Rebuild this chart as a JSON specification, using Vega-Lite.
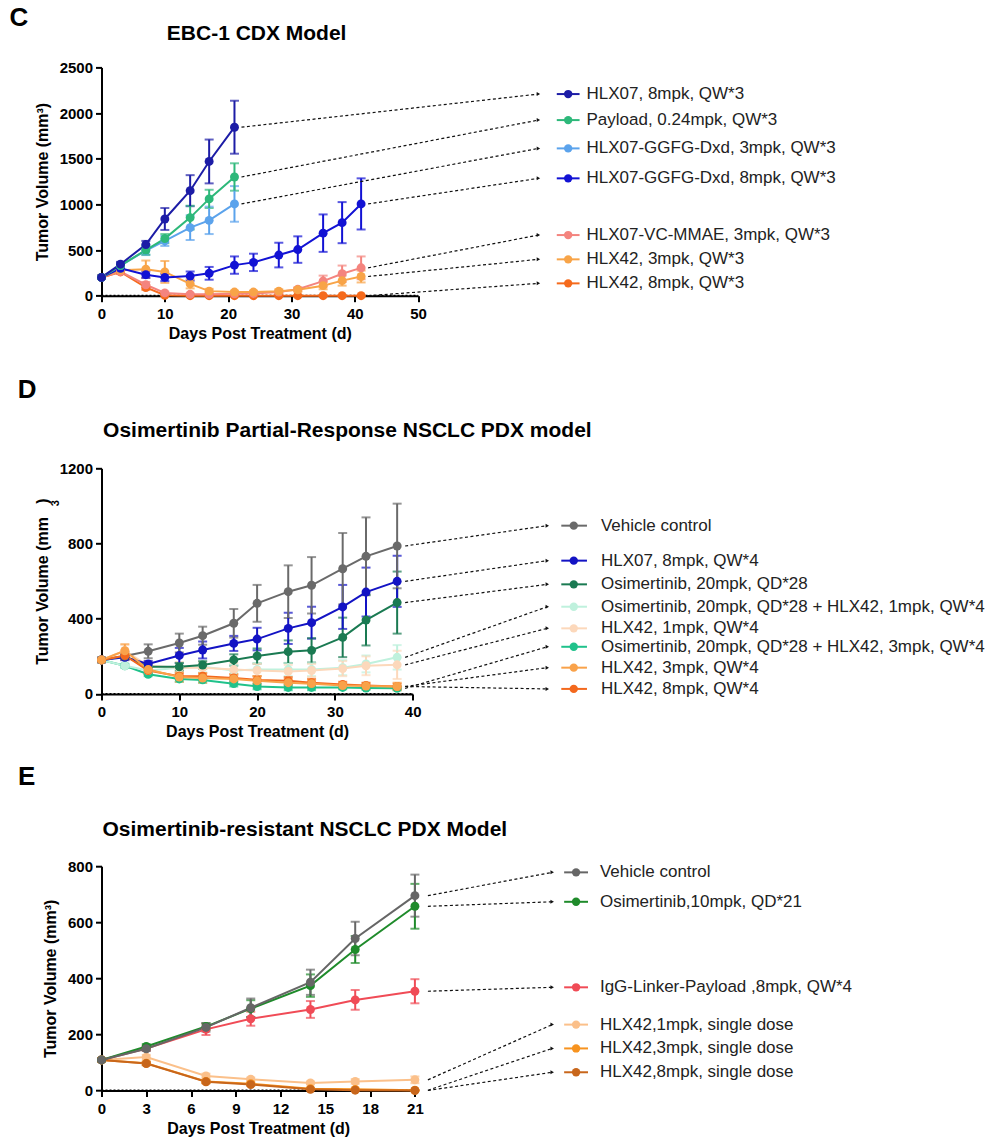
{
  "$schema": "https://vega.github.io/schema/vega-lite/v6.json",
  "padding": {"left": 8.5, "top": 4.4, "right": 0, "bottom": 0},
  "bounds": "flush",
  "spacing": 171.9,
  "resolve": {"scale": {"color": "independent"}},
  "config": {
    "font": "Liberation Sans",
    "view": {"stroke": null},
    "axis": {"domainColor": "#000", "domainWidth": 2, "tickColor": "#000", "tickWidth": 2, "tickSize": 6, "labelFont": "Liberation Sans", "labelFontSize": 15, "labelFontWeight": "bold", "labelColor": "#000", "titleFont": "Liberation Sans", "titleFontSize": 16, "titleFontWeight": "bold", "titleColor": "#000", "grid": false, "labelFlush": false, "labelOverlap": false, "format": "d"},
    "axisX": {"labelPadding": 5, "titlePadding": 4},
    "axisY": {"labelPadding": 3, "titlePadding": 9}
  },
  "datasets": {
    "cSeries": [
      {"series": "HLX42, 8mpk, QW*3", "day": 0, "mean": 200, "sem": 15},
      {"series": "HLX42, 8mpk, QW*3", "day": 3, "mean": 260, "sem": 20},
      {"series": "HLX42, 8mpk, QW*3", "day": 7, "mean": 90, "sem": 25},
      {"series": "HLX42, 8mpk, QW*3", "day": 10, "mean": 5, "sem": 5},
      {"series": "HLX42, 8mpk, QW*3", "day": 14, "mean": 0, "sem": 0},
      {"series": "HLX42, 8mpk, QW*3", "day": 17, "mean": 0, "sem": 0},
      {"series": "HLX42, 8mpk, QW*3", "day": 21, "mean": 0, "sem": 0},
      {"series": "HLX42, 8mpk, QW*3", "day": 24, "mean": 0, "sem": 0},
      {"series": "HLX42, 8mpk, QW*3", "day": 28, "mean": 0, "sem": 0},
      {"series": "HLX42, 8mpk, QW*3", "day": 31, "mean": 0, "sem": 0},
      {"series": "HLX42, 8mpk, QW*3", "day": 35, "mean": 0, "sem": 0},
      {"series": "HLX42, 8mpk, QW*3", "day": 38, "mean": 0, "sem": 0},
      {"series": "HLX42, 8mpk, QW*3", "day": 41, "mean": 0, "sem": 0},
      {"series": "HLX07-VC-MMAE, 3mpk, QW*3", "day": 0, "mean": 200, "sem": 15},
      {"series": "HLX07-VC-MMAE, 3mpk, QW*3", "day": 3, "mean": 265, "sem": 20},
      {"series": "HLX07-VC-MMAE, 3mpk, QW*3", "day": 7, "mean": 120, "sem": 30},
      {"series": "HLX07-VC-MMAE, 3mpk, QW*3", "day": 10, "mean": 30, "sem": 15},
      {"series": "HLX07-VC-MMAE, 3mpk, QW*3", "day": 14, "mean": 15, "sem": 10},
      {"series": "HLX07-VC-MMAE, 3mpk, QW*3", "day": 17, "mean": 15, "sem": 10},
      {"series": "HLX07-VC-MMAE, 3mpk, QW*3", "day": 21, "mean": 20, "sem": 10},
      {"series": "HLX07-VC-MMAE, 3mpk, QW*3", "day": 24, "mean": 25, "sem": 10},
      {"series": "HLX07-VC-MMAE, 3mpk, QW*3", "day": 28, "mean": 40, "sem": 15},
      {"series": "HLX07-VC-MMAE, 3mpk, QW*3", "day": 31, "mean": 70, "sem": 20},
      {"series": "HLX07-VC-MMAE, 3mpk, QW*3", "day": 35, "mean": 160, "sem": 60},
      {"series": "HLX07-VC-MMAE, 3mpk, QW*3", "day": 38, "mean": 240, "sem": 90},
      {"series": "HLX07-VC-MMAE, 3mpk, QW*3", "day": 41, "mean": 305, "sem": 125},
      {"series": "HLX42, 3mpk, QW*3", "day": 0, "mean": 200, "sem": 15},
      {"series": "HLX42, 3mpk, QW*3", "day": 3, "mean": 280, "sem": 25},
      {"series": "HLX42, 3mpk, QW*3", "day": 7, "mean": 290, "sem": 95},
      {"series": "HLX42, 3mpk, QW*3", "day": 10, "mean": 260, "sem": 120},
      {"series": "HLX42, 3mpk, QW*3", "day": 14, "mean": 130, "sem": 50},
      {"series": "HLX42, 3mpk, QW*3", "day": 17, "mean": 50, "sem": 25},
      {"series": "HLX42, 3mpk, QW*3", "day": 21, "mean": 40, "sem": 15},
      {"series": "HLX42, 3mpk, QW*3", "day": 24, "mean": 40, "sem": 15},
      {"series": "HLX42, 3mpk, QW*3", "day": 28, "mean": 50, "sem": 20},
      {"series": "HLX42, 3mpk, QW*3", "day": 31, "mean": 65, "sem": 20},
      {"series": "HLX42, 3mpk, QW*3", "day": 35, "mean": 110, "sem": 40},
      {"series": "HLX42, 3mpk, QW*3", "day": 38, "mean": 165, "sem": 55},
      {"series": "HLX42, 3mpk, QW*3", "day": 41, "mean": 210, "sem": 65},
      {"series": "HLX07-GGFG-Dxd, 8mpk, QW*3", "day": 0, "mean": 200, "sem": 15},
      {"series": "HLX07-GGFG-Dxd, 8mpk, QW*3", "day": 3, "mean": 300, "sem": 20},
      {"series": "HLX07-GGFG-Dxd, 8mpk, QW*3", "day": 7, "mean": 230, "sem": 35},
      {"series": "HLX07-GGFG-Dxd, 8mpk, QW*3", "day": 10, "mean": 200, "sem": 40},
      {"series": "HLX07-GGFG-Dxd, 8mpk, QW*3", "day": 14, "mean": 215, "sem": 50},
      {"series": "HLX07-GGFG-Dxd, 8mpk, QW*3", "day": 17, "mean": 245, "sem": 70},
      {"series": "HLX07-GGFG-Dxd, 8mpk, QW*3", "day": 21, "mean": 335, "sem": 95},
      {"series": "HLX07-GGFG-Dxd, 8mpk, QW*3", "day": 24, "mean": 365, "sem": 95},
      {"series": "HLX07-GGFG-Dxd, 8mpk, QW*3", "day": 28, "mean": 445, "sem": 135},
      {"series": "HLX07-GGFG-Dxd, 8mpk, QW*3", "day": 31, "mean": 505, "sem": 145},
      {"series": "HLX07-GGFG-Dxd, 8mpk, QW*3", "day": 35, "mean": 685, "sem": 205},
      {"series": "HLX07-GGFG-Dxd, 8mpk, QW*3", "day": 38, "mean": 800, "sem": 225},
      {"series": "HLX07-GGFG-Dxd, 8mpk, QW*3", "day": 41, "mean": 1005, "sem": 280},
      {"series": "HLX07-GGFG-Dxd, 3mpk, QW*3", "day": 0, "mean": 200, "sem": 15},
      {"series": "HLX07-GGFG-Dxd, 3mpk, QW*3", "day": 3, "mean": 330, "sem": 20},
      {"series": "HLX07-GGFG-Dxd, 3mpk, QW*3", "day": 7, "mean": 495, "sem": 50},
      {"series": "HLX07-GGFG-Dxd, 3mpk, QW*3", "day": 10, "mean": 600, "sem": 55},
      {"series": "HLX07-GGFG-Dxd, 3mpk, QW*3", "day": 14, "mean": 745, "sem": 135},
      {"series": "HLX07-GGFG-Dxd, 3mpk, QW*3", "day": 17, "mean": 825, "sem": 150},
      {"series": "HLX07-GGFG-Dxd, 3mpk, QW*3", "day": 21, "mean": 1005, "sem": 195},
      {"series": "Payload, 0.24mpk, QW*3", "day": 0, "mean": 200, "sem": 15},
      {"series": "Payload, 0.24mpk, QW*3", "day": 3, "mean": 330, "sem": 20},
      {"series": "Payload, 0.24mpk, QW*3", "day": 7, "mean": 500, "sem": 50},
      {"series": "Payload, 0.24mpk, QW*3", "day": 10, "mean": 625, "sem": 50},
      {"series": "Payload, 0.24mpk, QW*3", "day": 14, "mean": 855, "sem": 130},
      {"series": "Payload, 0.24mpk, QW*3", "day": 17, "mean": 1060, "sem": 100},
      {"series": "Payload, 0.24mpk, QW*3", "day": 21, "mean": 1300, "sem": 150},
      {"series": "HLX07, 8mpk, QW*3", "day": 0, "mean": 200, "sem": 15},
      {"series": "HLX07, 8mpk, QW*3", "day": 3, "mean": 345, "sem": 25},
      {"series": "HLX07, 8mpk, QW*3", "day": 7, "mean": 560, "sem": 40},
      {"series": "HLX07, 8mpk, QW*3", "day": 10, "mean": 840, "sem": 120},
      {"series": "HLX07, 8mpk, QW*3", "day": 14, "mean": 1150, "sem": 170},
      {"series": "HLX07, 8mpk, QW*3", "day": 17, "mean": 1470, "sem": 240},
      {"series": "HLX07, 8mpk, QW*3", "day": 21, "mean": 1845, "sem": 290}
    ],
    "cLegend": [
      {"series": "HLX07, 8mpk, QW*3", "ly": 2208},
      {"series": "Payload, 0.24mpk, QW*3", "ly": 1923},
      {"series": "HLX07-GGFG-Dxd, 3mpk, QW*3", "ly": 1613},
      {"series": "HLX07-GGFG-Dxd, 8mpk, QW*3", "ly": 1285},
      {"series": "HLX07-VC-MMAE, 3mpk, QW*3", "ly": 664},
      {"series": "HLX42, 3mpk, QW*3", "ly": 398},
      {"series": "HLX42, 8mpk, QW*3", "ly": 135}
    ],
    "dSeries": [
      {"series": "Osimertinib, 20mpk, QD*28 + HLX42, 3mpk, QW*4", "day": 0, "mean": 181, "sem": 10},
      {"series": "Osimertinib, 20mpk, QD*28 + HLX42, 3mpk, QW*4", "day": 3, "mean": 150, "sem": 10},
      {"series": "Osimertinib, 20mpk, QD*28 + HLX42, 3mpk, QW*4", "day": 6, "mean": 105, "sem": 10},
      {"series": "Osimertinib, 20mpk, QD*28 + HLX42, 3mpk, QW*4", "day": 10, "mean": 80, "sem": 15},
      {"series": "Osimertinib, 20mpk, QD*28 + HLX42, 3mpk, QW*4", "day": 13, "mean": 75, "sem": 15},
      {"series": "Osimertinib, 20mpk, QD*28 + HLX42, 3mpk, QW*4", "day": 17, "mean": 55, "sem": 15},
      {"series": "Osimertinib, 20mpk, QD*28 + HLX42, 3mpk, QW*4", "day": 20, "mean": 40, "sem": 15},
      {"series": "Osimertinib, 20mpk, QD*28 + HLX42, 3mpk, QW*4", "day": 24, "mean": 35, "sem": 15},
      {"series": "Osimertinib, 20mpk, QD*28 + HLX42, 3mpk, QW*4", "day": 27, "mean": 35, "sem": 15},
      {"series": "Osimertinib, 20mpk, QD*28 + HLX42, 3mpk, QW*4", "day": 31, "mean": 35, "sem": 10},
      {"series": "Osimertinib, 20mpk, QD*28 + HLX42, 3mpk, QW*4", "day": 34, "mean": 32, "sem": 10},
      {"series": "Osimertinib, 20mpk, QD*28 + HLX42, 3mpk, QW*4", "day": 38, "mean": 30, "sem": 10},
      {"series": "Osimertinib, 20mpk, QD*28 + HLX42, 1mpk, QW*4", "day": 0, "mean": 181, "sem": 10},
      {"series": "Osimertinib, 20mpk, QD*28 + HLX42, 1mpk, QW*4", "day": 3, "mean": 150, "sem": 10},
      {"series": "Osimertinib, 20mpk, QD*28 + HLX42, 1mpk, QW*4", "day": 6, "mean": 125, "sem": 15},
      {"series": "Osimertinib, 20mpk, QD*28 + HLX42, 1mpk, QW*4", "day": 10, "mean": 140, "sem": 25},
      {"series": "Osimertinib, 20mpk, QD*28 + HLX42, 1mpk, QW*4", "day": 13, "mean": 145, "sem": 30},
      {"series": "Osimertinib, 20mpk, QD*28 + HLX42, 1mpk, QW*4", "day": 17, "mean": 125, "sem": 30},
      {"series": "Osimertinib, 20mpk, QD*28 + HLX42, 1mpk, QW*4", "day": 20, "mean": 130, "sem": 35},
      {"series": "Osimertinib, 20mpk, QD*28 + HLX42, 1mpk, QW*4", "day": 24, "mean": 130, "sem": 35},
      {"series": "Osimertinib, 20mpk, QD*28 + HLX42, 1mpk, QW*4", "day": 27, "mean": 130, "sem": 35},
      {"series": "Osimertinib, 20mpk, QD*28 + HLX42, 1mpk, QW*4", "day": 31, "mean": 140, "sem": 40},
      {"series": "Osimertinib, 20mpk, QD*28 + HLX42, 1mpk, QW*4", "day": 34, "mean": 160, "sem": 45},
      {"series": "Osimertinib, 20mpk, QD*28 + HLX42, 1mpk, QW*4", "day": 38, "mean": 195, "sem": 65},
      {"series": "HLX42, 1mpk, QW*4", "day": 0, "mean": 181, "sem": 10},
      {"series": "HLX42, 1mpk, QW*4", "day": 3, "mean": 230, "sem": 30},
      {"series": "HLX42, 1mpk, QW*4", "day": 6, "mean": 150, "sem": 25},
      {"series": "HLX42, 1mpk, QW*4", "day": 10, "mean": 140, "sem": 30},
      {"series": "HLX42, 1mpk, QW*4", "day": 13, "mean": 140, "sem": 30},
      {"series": "HLX42, 1mpk, QW*4", "day": 17, "mean": 130, "sem": 35},
      {"series": "HLX42, 1mpk, QW*4", "day": 20, "mean": 125, "sem": 35},
      {"series": "HLX42, 1mpk, QW*4", "day": 24, "mean": 120, "sem": 35},
      {"series": "HLX42, 1mpk, QW*4", "day": 27, "mean": 125, "sem": 35},
      {"series": "HLX42, 1mpk, QW*4", "day": 31, "mean": 135, "sem": 40},
      {"series": "HLX42, 1mpk, QW*4", "day": 34, "mean": 150, "sem": 50},
      {"series": "HLX42, 1mpk, QW*4", "day": 38, "mean": 155, "sem": 75},
      {"series": "Osimertinib, 20mpk, QD*28", "day": 0, "mean": 181, "sem": 10},
      {"series": "Osimertinib, 20mpk, QD*28", "day": 3, "mean": 200, "sem": 15},
      {"series": "Osimertinib, 20mpk, QD*28", "day": 6, "mean": 145, "sem": 15},
      {"series": "Osimertinib, 20mpk, QD*28", "day": 10, "mean": 145, "sem": 20},
      {"series": "Osimertinib, 20mpk, QD*28", "day": 13, "mean": 154, "sem": 20},
      {"series": "Osimertinib, 20mpk, QD*28", "day": 17, "mean": 181, "sem": 30},
      {"series": "Osimertinib, 20mpk, QD*28", "day": 20, "mean": 202, "sem": 40},
      {"series": "Osimertinib, 20mpk, QD*28", "day": 24, "mean": 225, "sem": 60},
      {"series": "Osimertinib, 20mpk, QD*28", "day": 27, "mean": 232, "sem": 65},
      {"series": "Osimertinib, 20mpk, QD*28", "day": 31, "mean": 301, "sem": 105},
      {"series": "Osimertinib, 20mpk, QD*28", "day": 34, "mean": 393, "sem": 135},
      {"series": "Osimertinib, 20mpk, QD*28", "day": 38, "mean": 486, "sem": 165},
      {"series": "HLX07, 8mpk, QW*4", "day": 0, "mean": 181, "sem": 10},
      {"series": "HLX07, 8mpk, QW*4", "day": 3, "mean": 195, "sem": 15},
      {"series": "HLX07, 8mpk, QW*4", "day": 6, "mean": 160, "sem": 15},
      {"series": "HLX07, 8mpk, QW*4", "day": 10, "mean": 205, "sem": 40},
      {"series": "HLX07, 8mpk, QW*4", "day": 13, "mean": 234, "sem": 45},
      {"series": "HLX07, 8mpk, QW*4", "day": 17, "mean": 269, "sem": 40},
      {"series": "HLX07, 8mpk, QW*4", "day": 20, "mean": 292, "sem": 60},
      {"series": "HLX07, 8mpk, QW*4", "day": 24, "mean": 349, "sem": 83},
      {"series": "HLX07, 8mpk, QW*4", "day": 27, "mean": 379, "sem": 85},
      {"series": "HLX07, 8mpk, QW*4", "day": 31, "mean": 463, "sem": 117},
      {"series": "HLX07, 8mpk, QW*4", "day": 34, "mean": 542, "sem": 130},
      {"series": "HLX07, 8mpk, QW*4", "day": 38, "mean": 599, "sem": 136},
      {"series": "Vehicle control", "day": 0, "mean": 181, "sem": 15},
      {"series": "Vehicle control", "day": 3, "mean": 202, "sem": 20},
      {"series": "Vehicle control", "day": 6, "mean": 227, "sem": 37},
      {"series": "Vehicle control", "day": 10, "mean": 271, "sem": 50},
      {"series": "Vehicle control", "day": 13, "mean": 310, "sem": 48},
      {"series": "Vehicle control", "day": 17, "mean": 376, "sem": 76},
      {"series": "Vehicle control", "day": 20, "mean": 482, "sem": 98},
      {"series": "Vehicle control", "day": 24, "mean": 544, "sem": 140},
      {"series": "Vehicle control", "day": 27, "mean": 578, "sem": 150},
      {"series": "Vehicle control", "day": 31, "mean": 666, "sem": 190},
      {"series": "Vehicle control", "day": 34, "mean": 732, "sem": 207},
      {"series": "Vehicle control", "day": 38, "mean": 787, "sem": 225},
      {"series": "HLX42, 8mpk, QW*4", "day": 0, "mean": 181, "sem": 10},
      {"series": "HLX42, 8mpk, QW*4", "day": 3, "mean": 205, "sem": 20},
      {"series": "HLX42, 8mpk, QW*4", "day": 6, "mean": 125, "sem": 20},
      {"series": "HLX42, 8mpk, QW*4", "day": 10, "mean": 95, "sem": 15},
      {"series": "HLX42, 8mpk, QW*4", "day": 13, "mean": 95, "sem": 15},
      {"series": "HLX42, 8mpk, QW*4", "day": 17, "mean": 85, "sem": 20},
      {"series": "HLX42, 8mpk, QW*4", "day": 20, "mean": 75, "sem": 20},
      {"series": "HLX42, 8mpk, QW*4", "day": 24, "mean": 70, "sem": 20},
      {"series": "HLX42, 8mpk, QW*4", "day": 27, "mean": 60, "sem": 20},
      {"series": "HLX42, 8mpk, QW*4", "day": 31, "mean": 50, "sem": 15},
      {"series": "HLX42, 8mpk, QW*4", "day": 34, "mean": 45, "sem": 15},
      {"series": "HLX42, 8mpk, QW*4", "day": 38, "mean": 40, "sem": 15},
      {"series": "HLX42, 3mpk, QW*4", "day": 0, "mean": 181, "sem": 10},
      {"series": "HLX42, 3mpk, QW*4", "day": 3, "mean": 230, "sem": 35},
      {"series": "HLX42, 3mpk, QW*4", "day": 6, "mean": 130, "sem": 25},
      {"series": "HLX42, 3mpk, QW*4", "day": 10, "mean": 90, "sem": 25},
      {"series": "HLX42, 3mpk, QW*4", "day": 13, "mean": 85, "sem": 25},
      {"series": "HLX42, 3mpk, QW*4", "day": 17, "mean": 80, "sem": 25},
      {"series": "HLX42, 3mpk, QW*4", "day": 20, "mean": 70, "sem": 25},
      {"series": "HLX42, 3mpk, QW*4", "day": 24, "mean": 60, "sem": 20},
      {"series": "HLX42, 3mpk, QW*4", "day": 27, "mean": 55, "sem": 20},
      {"series": "HLX42, 3mpk, QW*4", "day": 31, "mean": 45, "sem": 15},
      {"series": "HLX42, 3mpk, QW*4", "day": 34, "mean": 42, "sem": 15},
      {"series": "HLX42, 3mpk, QW*4", "day": 38, "mean": 40, "sem": 20}
    ],
    "dLegend": [
      {"series": "Vehicle control", "ly": 895},
      {"series": "HLX07, 8mpk, QW*4", "ly": 709},
      {"series": "Osimertinib, 20mpk, QD*28", "ly": 583},
      {"series": "Osimertinib, 20mpk, QD*28 + HLX42, 1mpk, QW*4", "ly": 464},
      {"series": "HLX42, 1mpk, QW*4", "ly": 349},
      {"series": "Osimertinib, 20mpk, QD*28 + HLX42, 3mpk, QW*4", "ly": 251},
      {"series": "HLX42, 3mpk, QW*4", "ly": 140},
      {"series": "HLX42, 8mpk, QW*4", "ly": 27}
    ],
    "eSeries": [
      {"series": "HLX42,1mpk, single dose", "day": 0, "mean": 109, "sem": 5},
      {"series": "HLX42,1mpk, single dose", "day": 3, "mean": 119, "sem": 8},
      {"series": "HLX42,1mpk, single dose", "day": 7, "mean": 52, "sem": 8},
      {"series": "HLX42,1mpk, single dose", "day": 10, "mean": 40, "sem": 6},
      {"series": "HLX42,1mpk, single dose", "day": 14, "mean": 27, "sem": 5},
      {"series": "HLX42,1mpk, single dose", "day": 17, "mean": 32, "sem": 8},
      {"series": "HLX42,1mpk, single dose", "day": 21, "mean": 38, "sem": 12},
      {"series": "HLX42,3mpk, single dose", "day": 0, "mean": 109, "sem": 5},
      {"series": "HLX42,3mpk, single dose", "day": 3, "mean": 97, "sem": 6},
      {"series": "HLX42,3mpk, single dose", "day": 7, "mean": 32, "sem": 5},
      {"series": "HLX42,3mpk, single dose", "day": 10, "mean": 24, "sem": 4},
      {"series": "HLX42,3mpk, single dose", "day": 14, "mean": 6, "sem": 3},
      {"series": "HLX42,3mpk, single dose", "day": 17, "mean": 4, "sem": 3},
      {"series": "HLX42,3mpk, single dose", "day": 21, "mean": 1, "sem": 1},
      {"series": "HLX42,8mpk, single dose", "day": 0, "mean": 109, "sem": 5},
      {"series": "HLX42,8mpk, single dose", "day": 3, "mean": 96, "sem": 6},
      {"series": "HLX42,8mpk, single dose", "day": 7, "mean": 31, "sem": 5},
      {"series": "HLX42,8mpk, single dose", "day": 10, "mean": 21, "sem": 4},
      {"series": "HLX42,8mpk, single dose", "day": 14, "mean": 4, "sem": 3},
      {"series": "HLX42,8mpk, single dose", "day": 17, "mean": 1, "sem": 1},
      {"series": "HLX42,8mpk, single dose", "day": 21, "mean": 0, "sem": 0},
      {"series": "IgG-Linker-Payload ,8mpk, QW*4", "day": 0, "mean": 109, "sem": 5},
      {"series": "IgG-Linker-Payload ,8mpk, QW*4", "day": 3, "mean": 150, "sem": 8},
      {"series": "IgG-Linker-Payload ,8mpk, QW*4", "day": 7, "mean": 218, "sem": 20},
      {"series": "IgG-Linker-Payload ,8mpk, QW*4", "day": 10, "mean": 256, "sem": 25},
      {"series": "IgG-Linker-Payload ,8mpk, QW*4", "day": 14, "mean": 289, "sem": 30},
      {"series": "IgG-Linker-Payload ,8mpk, QW*4", "day": 17, "mean": 323, "sem": 35},
      {"series": "IgG-Linker-Payload ,8mpk, QW*4", "day": 21, "mean": 354, "sem": 43},
      {"series": "Osimertinib,10mpk, QD*21", "day": 0, "mean": 109, "sem": 5},
      {"series": "Osimertinib,10mpk, QD*21", "day": 3, "mean": 157, "sem": 8},
      {"series": "Osimertinib,10mpk, QD*21", "day": 7, "mean": 228, "sem": 12},
      {"series": "Osimertinib,10mpk, QD*21", "day": 10, "mean": 292, "sem": 30},
      {"series": "Osimertinib,10mpk, QD*21", "day": 14, "mean": 374, "sem": 40},
      {"series": "Osimertinib,10mpk, QD*21", "day": 17, "mean": 503, "sem": 48},
      {"series": "Osimertinib,10mpk, QD*21", "day": 21, "mean": 657, "sem": 80},
      {"series": "Vehicle control", "day": 0, "mean": 109, "sem": 5},
      {"series": "Vehicle control", "day": 3, "mean": 149, "sem": 8},
      {"series": "Vehicle control", "day": 7, "mean": 225, "sem": 15},
      {"series": "Vehicle control", "day": 10, "mean": 295, "sem": 33},
      {"series": "Vehicle control", "day": 14, "mean": 386, "sem": 45},
      {"series": "Vehicle control", "day": 17, "mean": 542, "sem": 60},
      {"series": "Vehicle control", "day": 21, "mean": 695, "sem": 75}
    ],
    "eLegend": [
      {"series": "Vehicle control", "ly": 778},
      {"series": "Osimertinib,10mpk, QD*21", "ly": 673},
      {"series": "IgG-Linker-Payload ,8mpk, QW*4", "ly": 368},
      {"series": "HLX42,1mpk, single dose", "ly": 235},
      {"series": "HLX42,3mpk, single dose", "ly": 150},
      {"series": "HLX42,8mpk, single dose", "ly": 65}
    ]
  },
  "vconcat": [
    {
      "width": 316.6,
      "height": 228.3,
      "layer": [
        {"data": {"values": [{}]}, "mark": {"type": "rule", "strokeDash": [2, 2], "strokeWidth": 2, "color": "#000"}, "encoding": {"x": {"datum": 0, "type": "quantitative"}, "x2": {"datum": 50}, "y": {"datum": 0, "type": "quantitative"}}},
        {"data": {"name": "cSeries"}, "mark": {"type": "errorbar", "ticks": {"size": 9}, "thickness": 2},
         "encoding": {"x": {"field": "day", "type": "quantitative", "title": "Days Post Treatment (d)"}, "y": {"field": "mean", "type": "quantitative", "title": "Tumor Volume (mm³)"}, "yError": {"field": "sem"},
           "color": {"field": "series", "type": "nominal", "legend": null, "scale": {"domain": ["HLX07, 8mpk, QW*3", "Payload, 0.24mpk, QW*3", "HLX07-GGFG-Dxd, 3mpk, QW*3", "HLX07-GGFG-Dxd, 8mpk, QW*3", "HLX07-VC-MMAE, 3mpk, QW*3", "HLX42, 3mpk, QW*3", "HLX42, 8mpk, QW*3"], "range": ["#1c1ca6", "#2db87a", "#5ba3ec", "#1212d4", "#f4847e", "#f8a448", "#f56a1c"]}}}},
        {"data": {"name": "cSeries"}, "mark": {"type": "line", "strokeWidth": 2},
         "encoding": {
           "x": {"field": "day", "type": "quantitative", "title": "Days Post Treatment (d)", "scale": {"domain": [0, 50], "nice": false}, "axis": {"values": [0, 10, 20, 30, 40, 50]}},
           "y": {"field": "mean", "type": "quantitative", "title": "Tumor Volume (mm³)", "scale": {"domain": [0, 2500], "nice": false}, "axis": {"values": [0, 500, 1000, 1500, 2000, 2500]}},
           "color": {"field": "series", "type": "nominal", "legend": null}}},
        {"data": {"name": "cSeries"}, "mark": {"type": "circle", "size": 80, "opacity": 1},
         "encoding": {"x": {"field": "day", "type": "quantitative", "title": "Days Post Treatment (d)"}, "y": {"field": "mean", "type": "quantitative", "title": "Tumor Volume (mm³)"}, "color": {"field": "series", "type": "nominal", "legend": null}}},
        {"data": {"name": "cSeries"},
         "transform": [{"joinaggregate": [{"op": "max", "field": "day", "as": "last"}], "groupby": ["series"]}, {"filter": "datum.day === datum.last"}, {"lookup": "series", "from": {"data": {"name": "cLegend"}, "key": "series", "fields": ["ly"]}}],
         "mark": {"type": "rule", "strokeDash": [3, 2.5], "strokeWidth": 1.2, "color": "#111", "xOffset": 7},
         "encoding": {"x": {"field": "day", "type": "quantitative", "title": "Days Post Treatment (d)"}, "y": {"field": "mean", "type": "quantitative", "title": "Tumor Volume (mm³)"}, "x2": {"datum": 69.0}, "y2": {"field": "ly"}}},
        {"data": {"name": "cLegend"}, "mark": {"type": "point", "shape": "triangle-right", "filled": true, "size": 16, "color": "#111", "opacity": 1},
         "encoding": {"x": {"datum": 69.0, "type": "quantitative"}, "y": {"field": "ly", "type": "quantitative", "title": "Tumor Volume (mm³)"}}},
        {"data": {"name": "cLegend"}, "mark": {"type": "rule", "strokeWidth": 2},
         "encoding": {"x": {"datum": 71.9, "type": "quantitative"}, "x2": {"datum": 75.5}, "y": {"field": "ly", "type": "quantitative", "title": "Tumor Volume (mm³)"}, "color": {"field": "series", "type": "nominal", "legend": null}}},
        {"data": {"name": "cLegend"}, "mark": {"type": "circle", "size": 70, "opacity": 1},
         "encoding": {"x": {"datum": 73.7, "type": "quantitative"}, "y": {"field": "ly", "type": "quantitative", "title": "Tumor Volume (mm³)"}, "color": {"field": "series", "type": "nominal", "legend": null}}},
        {"data": {"name": "cLegend"}, "mark": {"type": "text", "align": "left", "baseline": "middle", "fontSize": 17, "color": "#222"},
         "encoding": {"x": {"datum": 76.6, "type": "quantitative"}, "y": {"field": "ly", "type": "quantitative", "title": "Tumor Volume (mm³)"}, "text": {"field": "series"}}},
        {"data": {"values": [{}]}, "mark": {"type": "text", "text": "C", "fontSize": 26, "fontWeight": "bold", "align": "left", "baseline": "top", "color": "#000"},
         "encoding": {"x": {"datum": -14.53, "type": "quantitative"}, "y": {"datum": 3185, "type": "quantitative"}}},
        {"data": {"values": [{}]}, "mark": {"type": "text", "text": "EBC-1 CDX Model", "fontSize": 21, "fontWeight": "bold", "align": "center", "baseline": "alphabetic", "color": "#000"},
         "encoding": {"x": {"datum": 24.5, "type": "quantitative"}, "y": {"datum": 2799, "type": "quantitative"}}}
      ]
    },
    {
      "width": 311.2,
      "height": 225.7,
      "layer": [
        {"data": {"values": [{}]}, "mark": {"type": "rule", "strokeDash": [2, 2], "strokeWidth": 2, "color": "#000"}, "encoding": {"x": {"datum": 0, "type": "quantitative"}, "x2": {"datum": 40}, "y": {"datum": 0, "type": "quantitative"}}},
        {"data": {"name": "dSeries"}, "mark": {"type": "errorbar", "ticks": {"size": 9}, "thickness": 2},
         "encoding": {"x": {"field": "day", "type": "quantitative", "title": "Days Post Treatment (d)"}, "y": {"field": "mean", "type": "quantitative", "title": "Tumor Volume (mm\u00a0\u00a0\u00a0)"}, "yError": {"field": "sem"},
           "color": {"field": "series", "type": "nominal", "legend": null, "scale": {"domain": ["Vehicle control", "HLX07, 8mpk, QW*4", "Osimertinib, 20mpk, QD*28", "Osimertinib, 20mpk, QD*28 + HLX42, 1mpk, QW*4", "HLX42, 1mpk, QW*4", "Osimertinib, 20mpk, QD*28 + HLX42, 3mpk, QW*4", "HLX42, 3mpk, QW*4", "HLX42, 8mpk, QW*4"], "range": ["#6a6a6a", "#1313c4", "#1a7a52", "#bff1dd", "#fcd8bb", "#20c28b", "#f9a24a", "#f3681d"]}}}},
        {"data": {"name": "dSeries"}, "mark": {"type": "line", "strokeWidth": 2},
         "encoding": {
           "x": {"field": "day", "type": "quantitative", "title": "Days Post Treatment (d)", "scale": {"domain": [0, 40], "nice": false}, "axis": {"values": [0, 10, 20, 30, 40]}},
           "y": {"field": "mean", "type": "quantitative", "title": "Tumor Volume (mm\u00a0\u00a0\u00a0)", "scale": {"domain": [0, 1200], "nice": false}, "axis": {"values": [0, 400, 800, 1200]}},
           "color": {"field": "series", "type": "nominal", "legend": null}}},
        {"data": {"name": "dSeries"}, "mark": {"type": "circle", "size": 80, "opacity": 1},
         "encoding": {"x": {"field": "day", "type": "quantitative", "title": "Days Post Treatment (d)"}, "y": {"field": "mean", "type": "quantitative", "title": "Tumor Volume (mm\u00a0\u00a0\u00a0)"}, "color": {"field": "series", "type": "nominal", "legend": null}}},
        {"data": {"name": "dSeries"},
         "transform": [{"joinaggregate": [{"op": "max", "field": "day", "as": "last"}], "groupby": ["series"]}, {"filter": "datum.day === datum.last"}, {"lookup": "series", "from": {"data": {"name": "dLegend"}, "key": "series", "fields": ["ly"]}}],
         "mark": {"type": "rule", "strokeDash": [3, 2.5], "strokeWidth": 1.2, "color": "#111", "xOffset": 8},
         "encoding": {"x": {"field": "day", "type": "quantitative", "title": "Days Post Treatment (d)"}, "y": {"field": "mean", "type": "quantitative", "title": "Tumor Volume (mm\u00a0\u00a0\u00a0)"}, "x2": {"datum": 57.3}, "y2": {"field": "ly"}}},
        {"data": {"name": "dLegend"}, "mark": {"type": "point", "shape": "triangle-right", "filled": true, "size": 16, "color": "#111", "opacity": 1},
         "encoding": {"x": {"datum": 57.3, "type": "quantitative"}, "y": {"field": "ly", "type": "quantitative", "title": "Tumor Volume (mm\u00a0\u00a0\u00a0)"}}},
        {"data": {"name": "dLegend"}, "mark": {"type": "rule", "strokeWidth": 2},
         "encoding": {"x": {"datum": 59.1, "type": "quantitative"}, "x2": {"datum": 62.4}, "y": {"field": "ly", "type": "quantitative", "title": "Tumor Volume (mm\u00a0\u00a0\u00a0)"}, "color": {"field": "series", "type": "nominal", "legend": null}}},
        {"data": {"name": "dLegend"}, "mark": {"type": "circle", "size": 70, "opacity": 1},
         "encoding": {"x": {"datum": 60.7, "type": "quantitative"}, "y": {"field": "ly", "type": "quantitative", "title": "Tumor Volume (mm\u00a0\u00a0\u00a0)"}, "color": {"field": "series", "type": "nominal", "legend": null}}},
        {"data": {"name": "dLegend"}, "mark": {"type": "text", "align": "left", "baseline": "middle", "fontSize": 17, "color": "#222"},
         "encoding": {"x": {"datum": 64.2, "type": "quantitative"}, "y": {"field": "ly", "type": "quantitative", "title": "Tumor Volume (mm\u00a0\u00a0\u00a0)"}, "text": {"field": "series"}}},
        {"data": {"values": [{}]}, "mark": {"type": "text", "text": "D", "fontSize": 26, "fontWeight": "bold", "align": "left", "baseline": "top", "color": "#000"},
         "encoding": {"x": {"datum": -10.77, "type": "quantitative"}, "y": {"datum": 1685, "type": "quantitative"}}},
        {"data": {"values": [{}]}, "mark": {"type": "text", "text": "Osimertinib Partial-Response NSCLC PDX model", "fontSize": 21, "fontWeight": "bold", "align": "left", "baseline": "alphabetic", "color": "#000"},
         "encoding": {"x": {"datum": 0.2, "type": "quantitative"}, "y": {"datum": 1368, "type": "quantitative"}}},
        {"data": {"values": [{}]}, "mark": {"type": "text", "text": "3", "fontSize": 11, "fontWeight": "bold", "align": "center", "baseline": "middle", "angle": 270, "color": "#000"},
         "encoding": {"x": {"datum": -5.9, "type": "quantitative"}, "y": {"datum": 1015, "type": "quantitative"}}}
      ]
    },
    {
      "width": 313.4,
      "height": 224.3,
      "layer": [
        {"data": {"values": [{}]}, "mark": {"type": "rule", "strokeDash": [2, 2], "strokeWidth": 2, "color": "#000"}, "encoding": {"x": {"datum": 0, "type": "quantitative"}, "x2": {"datum": 21}, "y": {"datum": 0, "type": "quantitative"}}},
        {"data": {"name": "eSeries"}, "mark": {"type": "errorbar", "ticks": {"size": 9}, "thickness": 2},
         "encoding": {"x": {"field": "day", "type": "quantitative", "title": "Days Post Treatment (d)"}, "y": {"field": "mean", "type": "quantitative", "title": "Tumor Volume (mm³)"}, "yError": {"field": "sem"},
           "color": {"field": "series", "type": "nominal", "legend": null, "scale": {"domain": ["Vehicle control", "Osimertinib,10mpk, QD*21", "IgG-Linker-Payload ,8mpk, QW*4", "HLX42,1mpk, single dose", "HLX42,3mpk, single dose", "HLX42,8mpk, single dose"], "range": ["#666666", "#1f8b2b", "#f04b56", "#fbc08a", "#f7931f", "#c8661b"]}}}},
        {"data": {"name": "eSeries"}, "mark": {"type": "line", "strokeWidth": 2},
         "encoding": {
           "x": {"field": "day", "type": "quantitative", "title": "Days Post Treatment (d)", "scale": {"domain": [0, 21], "nice": false}, "axis": {"values": [0, 3, 6, 9, 12, 15, 18, 21]}},
           "y": {"field": "mean", "type": "quantitative", "title": "Tumor Volume (mm³)", "scale": {"domain": [0, 800], "nice": false}, "axis": {"values": [0, 200, 400, 600, 800]}},
           "color": {"field": "series", "type": "nominal", "legend": null}}},
        {"data": {"name": "eSeries"}, "mark": {"type": "circle", "size": 80, "opacity": 1},
         "encoding": {"x": {"field": "day", "type": "quantitative", "title": "Days Post Treatment (d)"}, "y": {"field": "mean", "type": "quantitative", "title": "Tumor Volume (mm³)"}, "color": {"field": "series", "type": "nominal", "legend": null}}},
        {"data": {"name": "eSeries"},
         "transform": [{"joinaggregate": [{"op": "max", "field": "day", "as": "last"}], "groupby": ["series"]}, {"filter": "datum.day === datum.last"}, {"lookup": "series", "from": {"data": {"name": "eLegend"}, "key": "series", "fields": ["ly"]}}],
         "mark": {"type": "rule", "strokeDash": [3, 2.5], "strokeWidth": 1.2, "color": "#111", "xOffset": 13},
         "encoding": {"x": {"field": "day", "type": "quantitative", "title": "Days Post Treatment (d)"}, "y": {"field": "mean", "type": "quantitative", "title": "Tumor Volume (mm³)"}, "x2": {"datum": 30.2}, "y2": {"field": "ly"}}},
        {"data": {"name": "eLegend"}, "mark": {"type": "point", "shape": "triangle-right", "filled": true, "size": 16, "color": "#111", "opacity": 1},
         "encoding": {"x": {"datum": 30.2, "type": "quantitative"}, "y": {"field": "ly", "type": "quantitative", "title": "Tumor Volume (mm³)"}}},
        {"data": {"name": "eLegend"}, "mark": {"type": "rule", "strokeWidth": 2},
         "encoding": {"x": {"datum": 31.0, "type": "quantitative"}, "x2": {"datum": 32.6}, "y": {"field": "ly", "type": "quantitative", "title": "Tumor Volume (mm³)"}, "color": {"field": "series", "type": "nominal", "legend": null}}},
        {"data": {"name": "eLegend"}, "mark": {"type": "circle", "size": 70, "opacity": 1},
         "encoding": {"x": {"datum": 31.8, "type": "quantitative"}, "y": {"field": "ly", "type": "quantitative", "title": "Tumor Volume (mm³)"}, "color": {"field": "series", "type": "nominal", "legend": null}}},
        {"data": {"name": "eLegend"}, "mark": {"type": "text", "align": "left", "baseline": "middle", "fontSize": 17, "color": "#222"},
         "encoding": {"x": {"datum": 33.4, "type": "quantitative"}, "y": {"field": "ly", "type": "quantitative", "title": "Tumor Volume (mm³)"}, "text": {"field": "series"}}},
        {"data": {"values": [{}]}, "mark": {"type": "text", "text": "E", "fontSize": 26, "fontWeight": "bold", "align": "left", "baseline": "top", "color": "#000"},
         "encoding": {"x": {"datum": -5.59, "type": "quantitative"}, "y": {"datum": 1166, "type": "quantitative"}}},
        {"data": {"values": [{}]}, "mark": {"type": "text", "text": "Osimertinib-resistant NSCLC PDX Model", "fontSize": 21, "fontWeight": "bold", "align": "left", "baseline": "alphabetic", "color": "#000"},
         "encoding": {"x": {"datum": 0.07, "type": "quantitative"}, "y": {"datum": 909, "type": "quantitative"}}}
      ]
    }
  ]
}
